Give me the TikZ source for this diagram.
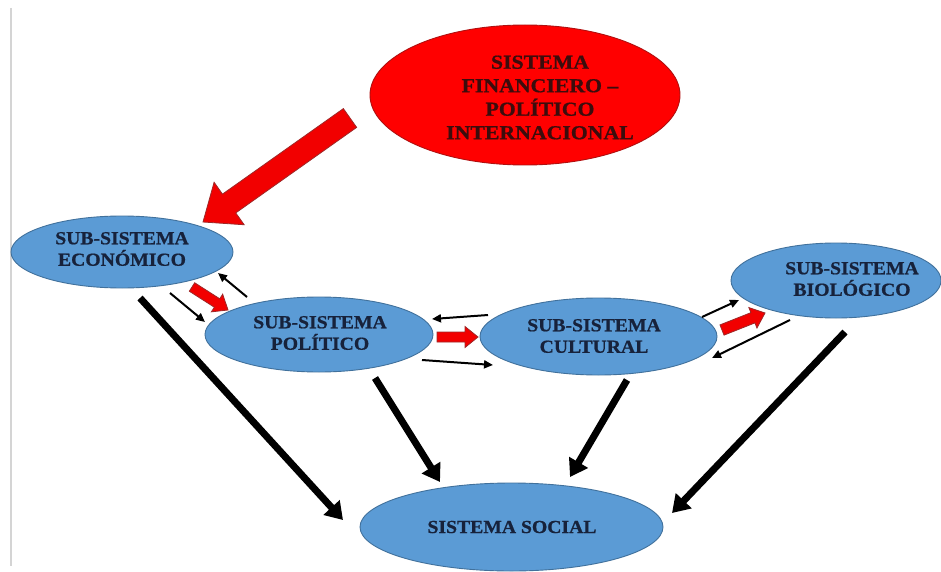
\documentclass[tikz,border=0pt]{standalone}
\usepackage{fontspec}
\newfontfamily\diagfont[FakeStretch=1.07,FakeBold=0.8]{Liberation Serif Bold}
\newfontfamily\finfont[FakeStretch=1.1,FakeBold=0.8]{Liberation Serif Bold}
\usetikzlibrary{shapes.geometric,arrows.meta,calc}
\definecolor{boxblue}{HTML}{5B9BD5}
\definecolor{boxedge}{HTML}{41719C}
\definecolor{navytext}{HTML}{17223B}
\definecolor{finred}{HTML}{FF0000}
\definecolor{finedge}{HTML}{B01010}
\definecolor{fintext}{HTML}{3B0D0D}
\definecolor{arrowred}{HTML}{F20000}
\definecolor{arrowedge}{HTML}{9E2828}
\definecolor{frameline}{HTML}{D4D4D4}
\tikzset{
  subsys/.style={ellipse, draw=boxedge, line width=0.9pt, fill=boxblue, inner sep=0pt},
  subtext/.style={font=\diagfont\fontsize{18.4pt}{21.5pt}\selectfont, text=navytext, align=center, inner sep=0pt},
  fintxt/.style={font=\finfont\fontsize{19.8pt}{23.5pt}\selectfont, text=fintext, align=center, inner sep=0pt},
  thickarrow/.style={line width=7pt, -{Triangle[width=21pt,length=17pt]}, black},
  thinarrow/.style={line width=2pt, -{Triangle[width=8pt,length=9pt]}, black},
  redarrow/.style={fill=arrowred, draw=arrowedge, line width=0.8pt, line join=miter}
}
\newcommand{\blockarrow}[5]{%
  \coordinate (ba-b) at ($(#2)!#5!(#1)$);
  \filldraw[redarrow] ($(#1)!#3!90:(#2)$) -- ($(ba-b)!#3!90:(#2)$) -- ($(ba-b)!#4!90:(#2)$) -- (#2)
    -- ($(ba-b)!#4!-90:(#2)$) -- ($(ba-b)!#3!-90:(#2)$) -- ($(#1)!#3!-90:(#2)$) -- cycle;
}
\begin{document}
\begin{tikzpicture}[x=1pt,y=-1pt]
\useasboundingbox (0,0) rectangle (941,572);
\fill[white] (0,0) rectangle (941,572);
\begin{scope}
\clip (0,0) rectangle (941,572);
% frame line at left
\coordinate (fl1) at (11,8);
\coordinate (fl2) at (11,566);
\draw[frameline, line width=1.5pt] (fl1) -- (fl2);

% ellipses
\node[ellipse, draw=finedge, line width=0.9pt, fill=finred, minimum width=310pt, minimum height=140pt] (fin) at (525,95) {};
\node[fintxt] (fint) at (540,97.5) {SISTEMA\\FINANCIERO –\\POLÍTICO\\INTERNACIONAL};

\node[subsys, minimum width=222pt, minimum height=72pt] (eco) at (122,252) {};
\node[subtext] (ecot) at (122,249) {SUB-SISTEMA\\ECONÓMICO};

\node[subsys, minimum width=228pt, minimum height=75pt] (pol) at (319,334.5) {};
\node[subtext] (polt) at (320,333) {SUB-SISTEMA\\POLÍTICO};

\node[subsys, minimum width=237pt, minimum height=77pt] (cul) at (598.5,336.5) {};
\node[subtext] (cult) at (594,336) {SUB-SISTEMA\\CULTURAL};

\node[subsys, minimum width=210pt, minimum height=75pt] (bio) at (836,280.5) {};
\node[subtext] (biot) at (852,279) {SUB-SISTEMA\\BIOLÓGICO};

\node[subsys, minimum width=303pt, minimum height=88pt] (soc) at (511.5,527) {};
\node[subtext] (soct) at (512,527) {SISTEMA SOCIAL};

% big red arrow
\coordinate (r1s) at (350,118);
\coordinate (r1e) at (203,222);
\blockarrow{r1s}{r1e}{11.5pt}{26pt}{32pt}

% small red arrows
\coordinate (r2s) at (192,287);
\coordinate (r2e) at (228,310);
\blockarrow{r2s}{r2e}{5pt}{10.5pt}{13pt}
\coordinate (r3s) at (437,337);
\coordinate (r3e) at (478,337);
\blockarrow{r3s}{r3e}{5pt}{10.5pt}{13pt}
\coordinate (r4s) at (722,330);
\coordinate (r4e) at (765,313);
\blockarrow{r4s}{r4e}{5.5pt}{11pt}{13pt}

% thin black arrows
\coordinate (t1s) at (170,293); \coordinate (t1e) at (205,322);
\coordinate (t2s) at (247,297); \coordinate (t2e) at (218,273);
\coordinate (t3s) at (488,315); \coordinate (t3e) at (432,319);
\coordinate (t4s) at (422,360); \coordinate (t4e) at (493,365);
\coordinate (t5s) at (702,317); \coordinate (t5e) at (739,300);
\coordinate (t6s) at (790,320); \coordinate (t6e) at (712,358);
\draw[thinarrow] (t1s) -- (t1e);
\draw[thinarrow] (t2s) -- (t2e);
\draw[thinarrow] (t3s) -- (t3e);
\draw[thinarrow] (t4s) -- (t4e);
\draw[thinarrow] (t5s) -- (t5e);
\draw[thinarrow] (t6s) -- (t6e);

% thick black arrows to the social system
\coordinate (k1s) at (140,298); \coordinate (k1e) at (343,520);
\coordinate (k2s) at (375,378); \coordinate (k2e) at (440,482);
\coordinate (k3s) at (627,380); \coordinate (k3e) at (570,477);
\coordinate (k4s) at (845,332); \coordinate (k4e) at (672,513);
\draw[thickarrow] (k1s) -- (k1e);
\draw[thickarrow] (k2s) -- (k2e);
\draw[thickarrow] (k3s) -- (k3e);
\draw[thickarrow] (k4s) -- (k4e);
\end{scope}
\end{tikzpicture}
\end{document}
